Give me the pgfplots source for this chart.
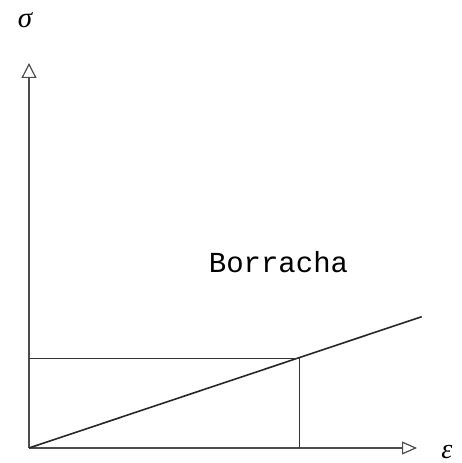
\documentclass[border=0pt]{standalone}
\usepackage{fontspec}
\usepackage{pgfplots}
\pgfplotsset{compat=1.18}
\usetikzlibrary{arrows.meta}
\newfontfamily\monofont{Liberation Mono}
\newfontfamily\seriffont{Liberation Serif}
\begin{document}
\begin{tikzpicture}
\begin{axis}[
  scale only axis, width=462pt, height=463pt,
  xmin=-29, xmax=433, ymin=-15, ymax=448,
  hide axis, clip=false,
]
% axes
\addplot[black!70, line width=1.7pt, -{Triangle[open,length=15pt,width=15pt,line width=1.2pt]}] coordinates {(0,0) (0,385)};
\addplot[black!70, line width=1.7pt, -{Triangle[open,length=15pt,width=13pt,line width=1.2pt]}] coordinates {(0,0) (388,0)};
% stress-strain line
\addplot[black!85, line width=1.6pt] coordinates {(0,0) (392.7,131.3)};
% projections
\addplot[black!80, line width=1.6pt] coordinates {(0,89.3) (270.3,89.3) (270.3,0)};
\node[font=\seriffont\itshape\fontsize{29}{31}\selectfont, inner sep=0pt] at (axis cs:-4,428) {σ};
\node[font=\seriffont\itshape\fontsize{28}{30}\selectfont, inner sep=0pt] at (axis cs:418,-4) {ε};
\node[font=\monofont\fontsize{29}{32}\selectfont, anchor=base, inner sep=0pt] at (axis cs:249.5,175) {Borracha};
\path (axis cs:-29,-15) rectangle (axis cs:433,448);
\end{axis}
\end{tikzpicture}
\end{document}
